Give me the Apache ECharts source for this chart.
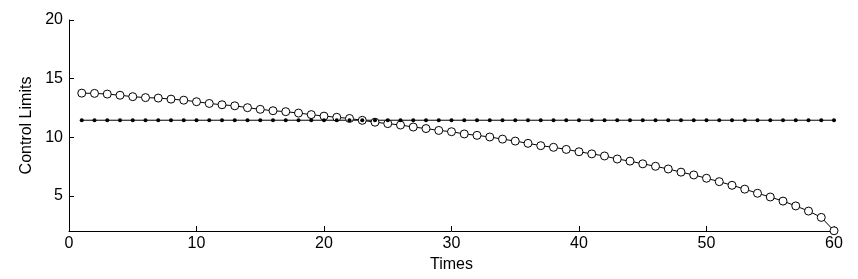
<!DOCTYPE html>
<html><head><meta charset="utf-8">
<script src="https://cdn.jsdelivr.net/npm/echarts@6/dist/echarts.min.js"></script>
<style>html,body{margin:0;padding:0;background:#fff}#c{width:858px;height:279px}</style>
</head><body><div id="c"></div>
<script>
const times = Array.from({length: 60}, (_, i) => i + 1);
const curveValues = [13.76,13.74,13.68,13.58,13.46,13.38,13.34,13.25,13.16,13.03,
  12.88,12.77,12.68,12.52,12.38,12.26,12.18,12.06,11.93,11.80,
  11.70,11.60,11.44,11.28,11.16,11.04,10.87,10.74,10.58,10.47,
  10.28,10.16,10.02,9.84,9.67,9.48,9.28,9.14,8.96,8.76,
  8.58,8.40,8.14,7.96,7.73,7.52,7.29,7.02,6.78,6.50,
  6.21,5.90,5.57,5.22,4.90,4.55,4.14,3.70,3.16,2.02];
const limitValues = times.map(() => 11.45);
const yTicks = [5, 10, 15, 20];
const xTicks = [0, 10, 20, 30, 40, 50, 60];

const chart = echarts.init(document.getElementById('c'));
const font = 'Liberation Sans, Arial, sans-serif';
chart.setOption({
  animation: false,
  backgroundColor: '#fff',
  grid: {left: 69, right: 24, top: 20, bottom: 48},
  xAxis: {
    type: 'value', min: 0, max: 60, interval: 10,
    name: 'Times', nameLocation: 'middle', nameGap: 24,
    nameTextStyle: {fontFamily: font, fontSize: 16, color: '#000'},
    axisLine: {onZero: false, lineStyle: {color: '#000', width: 1}},
    axisTick: {inside: true, length: 5, customValues: xTicks, lineStyle: {color: '#000'}},
    axisLabel: {fontFamily: font, fontSize: 16, color: '#000', margin: 5, customValues: xTicks},
    splitLine: {show: false}
  },
  yAxis: {
    type: 'value', min: 2, max: 20,
    name: 'Control Limits', nameLocation: 'middle', nameGap: 27,
    nameTextStyle: {fontFamily: font, fontSize: 16, color: '#000'},
    axisLine: {show: true, onZero: false, lineStyle: {color: '#000', width: 1}},
    axisTick: {show: true, inside: true, length: 5, customValues: yTicks, lineStyle: {color: '#000'}},
    axisLabel: {fontFamily: font, fontSize: 16, color: '#000', margin: 6, customValues: yTicks},
    splitLine: {show: false}
  },
  series: [
    {
      type: 'line', data: times.map((t, i) => [t, curveValues[i]]),
      symbol: 'circle', symbolSize: 8, showAllSymbol: true,
      itemStyle: {color: '#fff', borderColor: '#000', borderWidth: 1},
      lineStyle: {color: '#000', width: 1}
    },
    {
      type: 'line', data: times.map((t, i) => [t, limitValues[i]]),
      symbol: 'circle', symbolSize: 4, showAllSymbol: true,
      itemStyle: {color: '#000', borderColor: '#000', borderWidth: 0},
      lineStyle: {color: '#000', width: 1}
    }
  ]
});
</script></body></html>
